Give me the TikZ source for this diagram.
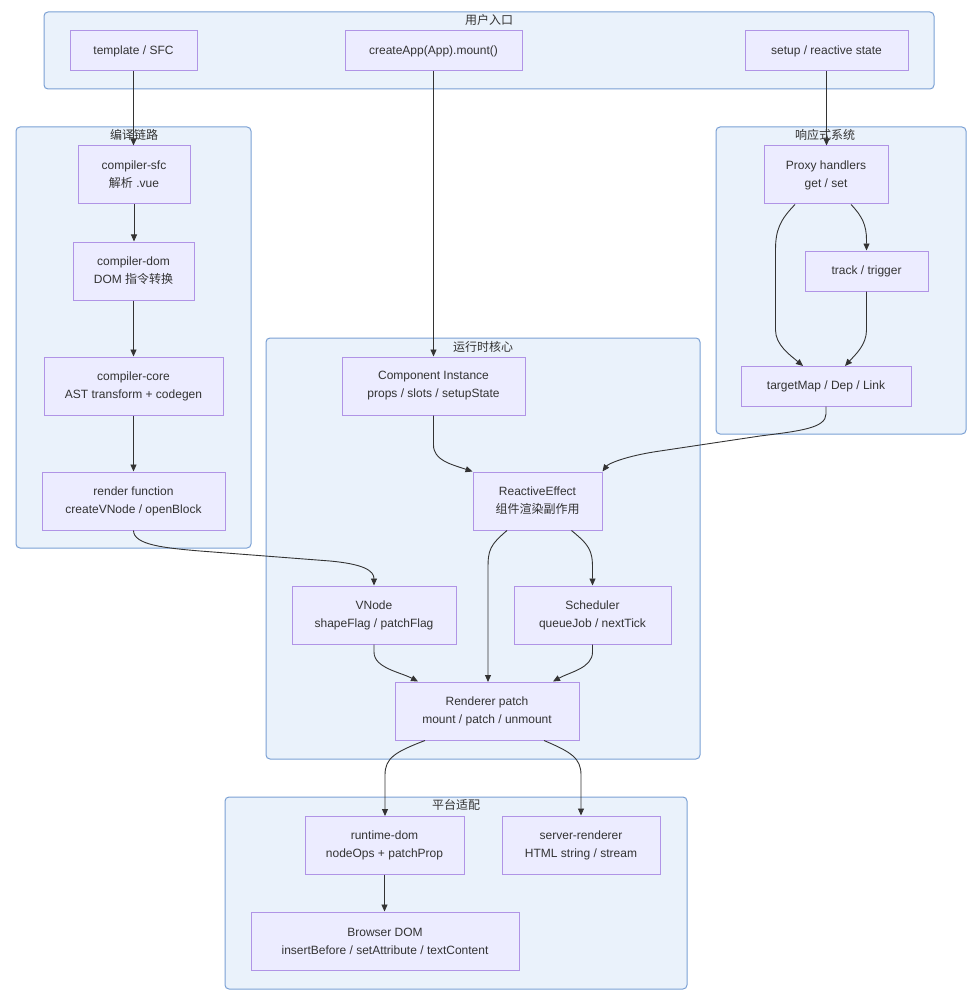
\documentclass[tikz,border=0pt]{standalone}
\usepackage{fontspec}
\setmainfont{Liberation Sans}
\newfontfamily\cjk{Noto Sans CJK SC}
\usetikzlibrary{arrows.meta}
\definecolor{grpfill}{RGB}{234,242,251}
\definecolor{grpline}{RGB}{122,160,212}
\definecolor{nodefill}{RGB}{236,236,255}
\definecolor{nodeline}{RGB}{176,148,230}
\definecolor{ink}{RGB}{51,51,51}
\tikzset{
  grp/.style={draw=grpline, fill=grpfill, line width=1pt, rounded corners=4pt, inner sep=0pt},
  gtitle/.style={text=ink, inner sep=0pt, font=\cjk\fontsize{12}{14}\selectfont},
  box/.style={draw=nodeline, fill=nodefill, line width=1pt, inner sep=0pt, align=center, text=ink, font=\fontsize{12}{18}\selectfont},
  arr/.style={draw=ink, line width=0.9pt, -{Triangle[length=7pt,width=6pt]}}
}
\begin{document}
\begin{tikzpicture}[x=1pt,y=-1pt]
\useasboundingbox (0,0) rectangle (970,992);
% groups
\node[grp, minimum width=890, minimum height=77] (g1) at (489,50.5) {};
\node[gtitle] (g1t) at (489,20) {用户入口};
\node[grp, minimum width=235, minimum height=421] (g2) at (133.5,337.5) {};
\node[gtitle] (g2t) at (134,135) {编译链路};
\node[grp, minimum width=250, minimum height=307] (g3) at (841,280.5) {};
\node[gtitle] (g3t) at (825,135) {响应式系统};
\node[grp, minimum width=434, minimum height=421] (g4) at (483,548.5) {};
\node[gtitle] (g4t) at (483,347) {运行时核心};
\node[grp, minimum width=462, minimum height=192] (g5) at (456,893) {};
\node[gtitle] (g5t) at (456,805) {平台适配};
% nodes
\node[box, minimum width=127, minimum height=40] (tpl) at (133.5,51) {template / SFC};
\node[box, minimum width=177, minimum height=40] (app) at (433.5,51) {createApp(App).mount()};
\node[box, minimum width=163, minimum height=40] (setup) at (826.5,51) {setup / reactive state};
\node[box, minimum width=112, minimum height=58] (sfc) at (134,175) {compiler-sfc\\{\cjk 解析} .vue};
\node[box, minimum width=121, minimum height=58] (dom) at (133.5,271) {compiler-dom\\DOM {\cjk 指令转换}};
\node[box, minimum width=179, minimum height=58] (core) at (133.5,386) {compiler-core\\AST transform + codegen};
\node[box, minimum width=183, minimum height=58] (render) at (133.5,501) {render function\\createVNode / openBlock};
\node[box, minimum width=124, minimum height=58] (proxy) at (826,175) {Proxy handlers\\get / set};
\node[box, minimum width=123, minimum height=40] (track) at (866.5,271) {track / trigger};
\node[box, minimum width=170, minimum height=40] (tmap) at (826,386) {targetMap / Dep / Link};
\node[box, minimum width=183, minimum height=58] (comp) at (433.5,386) {Component Instance\\props / slots / setupState};
\node[box, minimum width=129, minimum height=58] (effect) at (537.5,501) {ReactiveEffect\\{\cjk 组件渲染副作用}};
\node[box, minimum width=164, minimum height=58] (vnode) at (374,615) {VNode\\shapeFlag / patchFlag};
\node[box, minimum width=157, minimum height=58] (sched) at (592.5,615) {Scheduler\\queueJob / nextTick};
\node[box, minimum width=184, minimum height=58] (rend) at (487,711) {Renderer patch\\mount / patch / unmount};
\node[box, minimum width=159, minimum height=58] (rdom) at (384.5,845) {runtime-dom\\nodeOps + patchProp};
\node[box, minimum width=158, minimum height=58] (ssr) at (581,845) {server-renderer\\HTML string / stream};
\node[box, minimum width=268, minimum height=58] (bdom) at (385,941) {Browser DOM\\insertBefore / setAttribute / textContent};
% edges
\draw[arr] (tpl.south) -- (tpl.south |- sfc.north);
\draw[arr] (app.south) -- (comp.north);
\draw[arr] (setup.south) -- (setup.south |- proxy.north);
\draw[arr] (sfc.south) -- (sfc.south |- dom.north);
\draw[arr] (dom.south) -- (core.north);
\draw[arr] (core.south) -- (render.north);
\draw[arr] (render.south) .. controls (133.5,545) and (165,548) .. (200,551)
  -- (330,561) .. controls (362,564) and (374,570) .. (vnode.north);
\draw[arr] (comp.south) -- (433.5,445) .. controls (433.5,460) and (450,464) .. (effect.north west);
\draw[arr] (tmap.south) -- (826,414) .. controls (826,428) and (800,431) .. (760,436)
  -- (660,451) .. controls (625,456) and (608,464) .. (effect.north east);
\draw[arr] ([xshift=-30.5]effect.south) .. controls (490,545) and (488,550) .. (488,568) -- (488,682);
\draw[arr] ([xshift=34]effect.south) .. controls (589,545) and (592.5,550) .. (592.5,568) -- (sched.north);
\draw[arr] (vnode.south) -- (374,652) .. controls (374,668) and (400,672) .. ([xshift=-69]rend.north);
\draw[arr] (sched.south) -- (592.5,652) .. controls (592.5,668) and (570,672) .. ([xshift=66]rend.north);
\draw[arr] ([xshift=-62]rend.south) .. controls (395,752) and (385,758) .. (385,775) -- (385,816);
\draw[arr] ([xshift=57]rend.south) .. controls (571,752) and (581,758) .. (581,775) -- (ssr.north);
\draw[arr] (rdom.south) -- (rdom.south |- bdom.north);
\draw[arr] ([xshift=25]proxy.south) .. controls (862,216) and (866.5,225) .. (866.5,240) -- (track.north);
\draw[arr] ([xshift=-31]proxy.south) .. controls (780,220) and (775.5,230) .. (775.5,250)
  -- (775.5,330) .. controls (775.5,345) and (790,355) .. (803,366);
\draw[arr] (track.south) -- (866.5,330) .. controls (866.5,345) and (855,355) .. (845,366);
\end{tikzpicture}
\end{document}
